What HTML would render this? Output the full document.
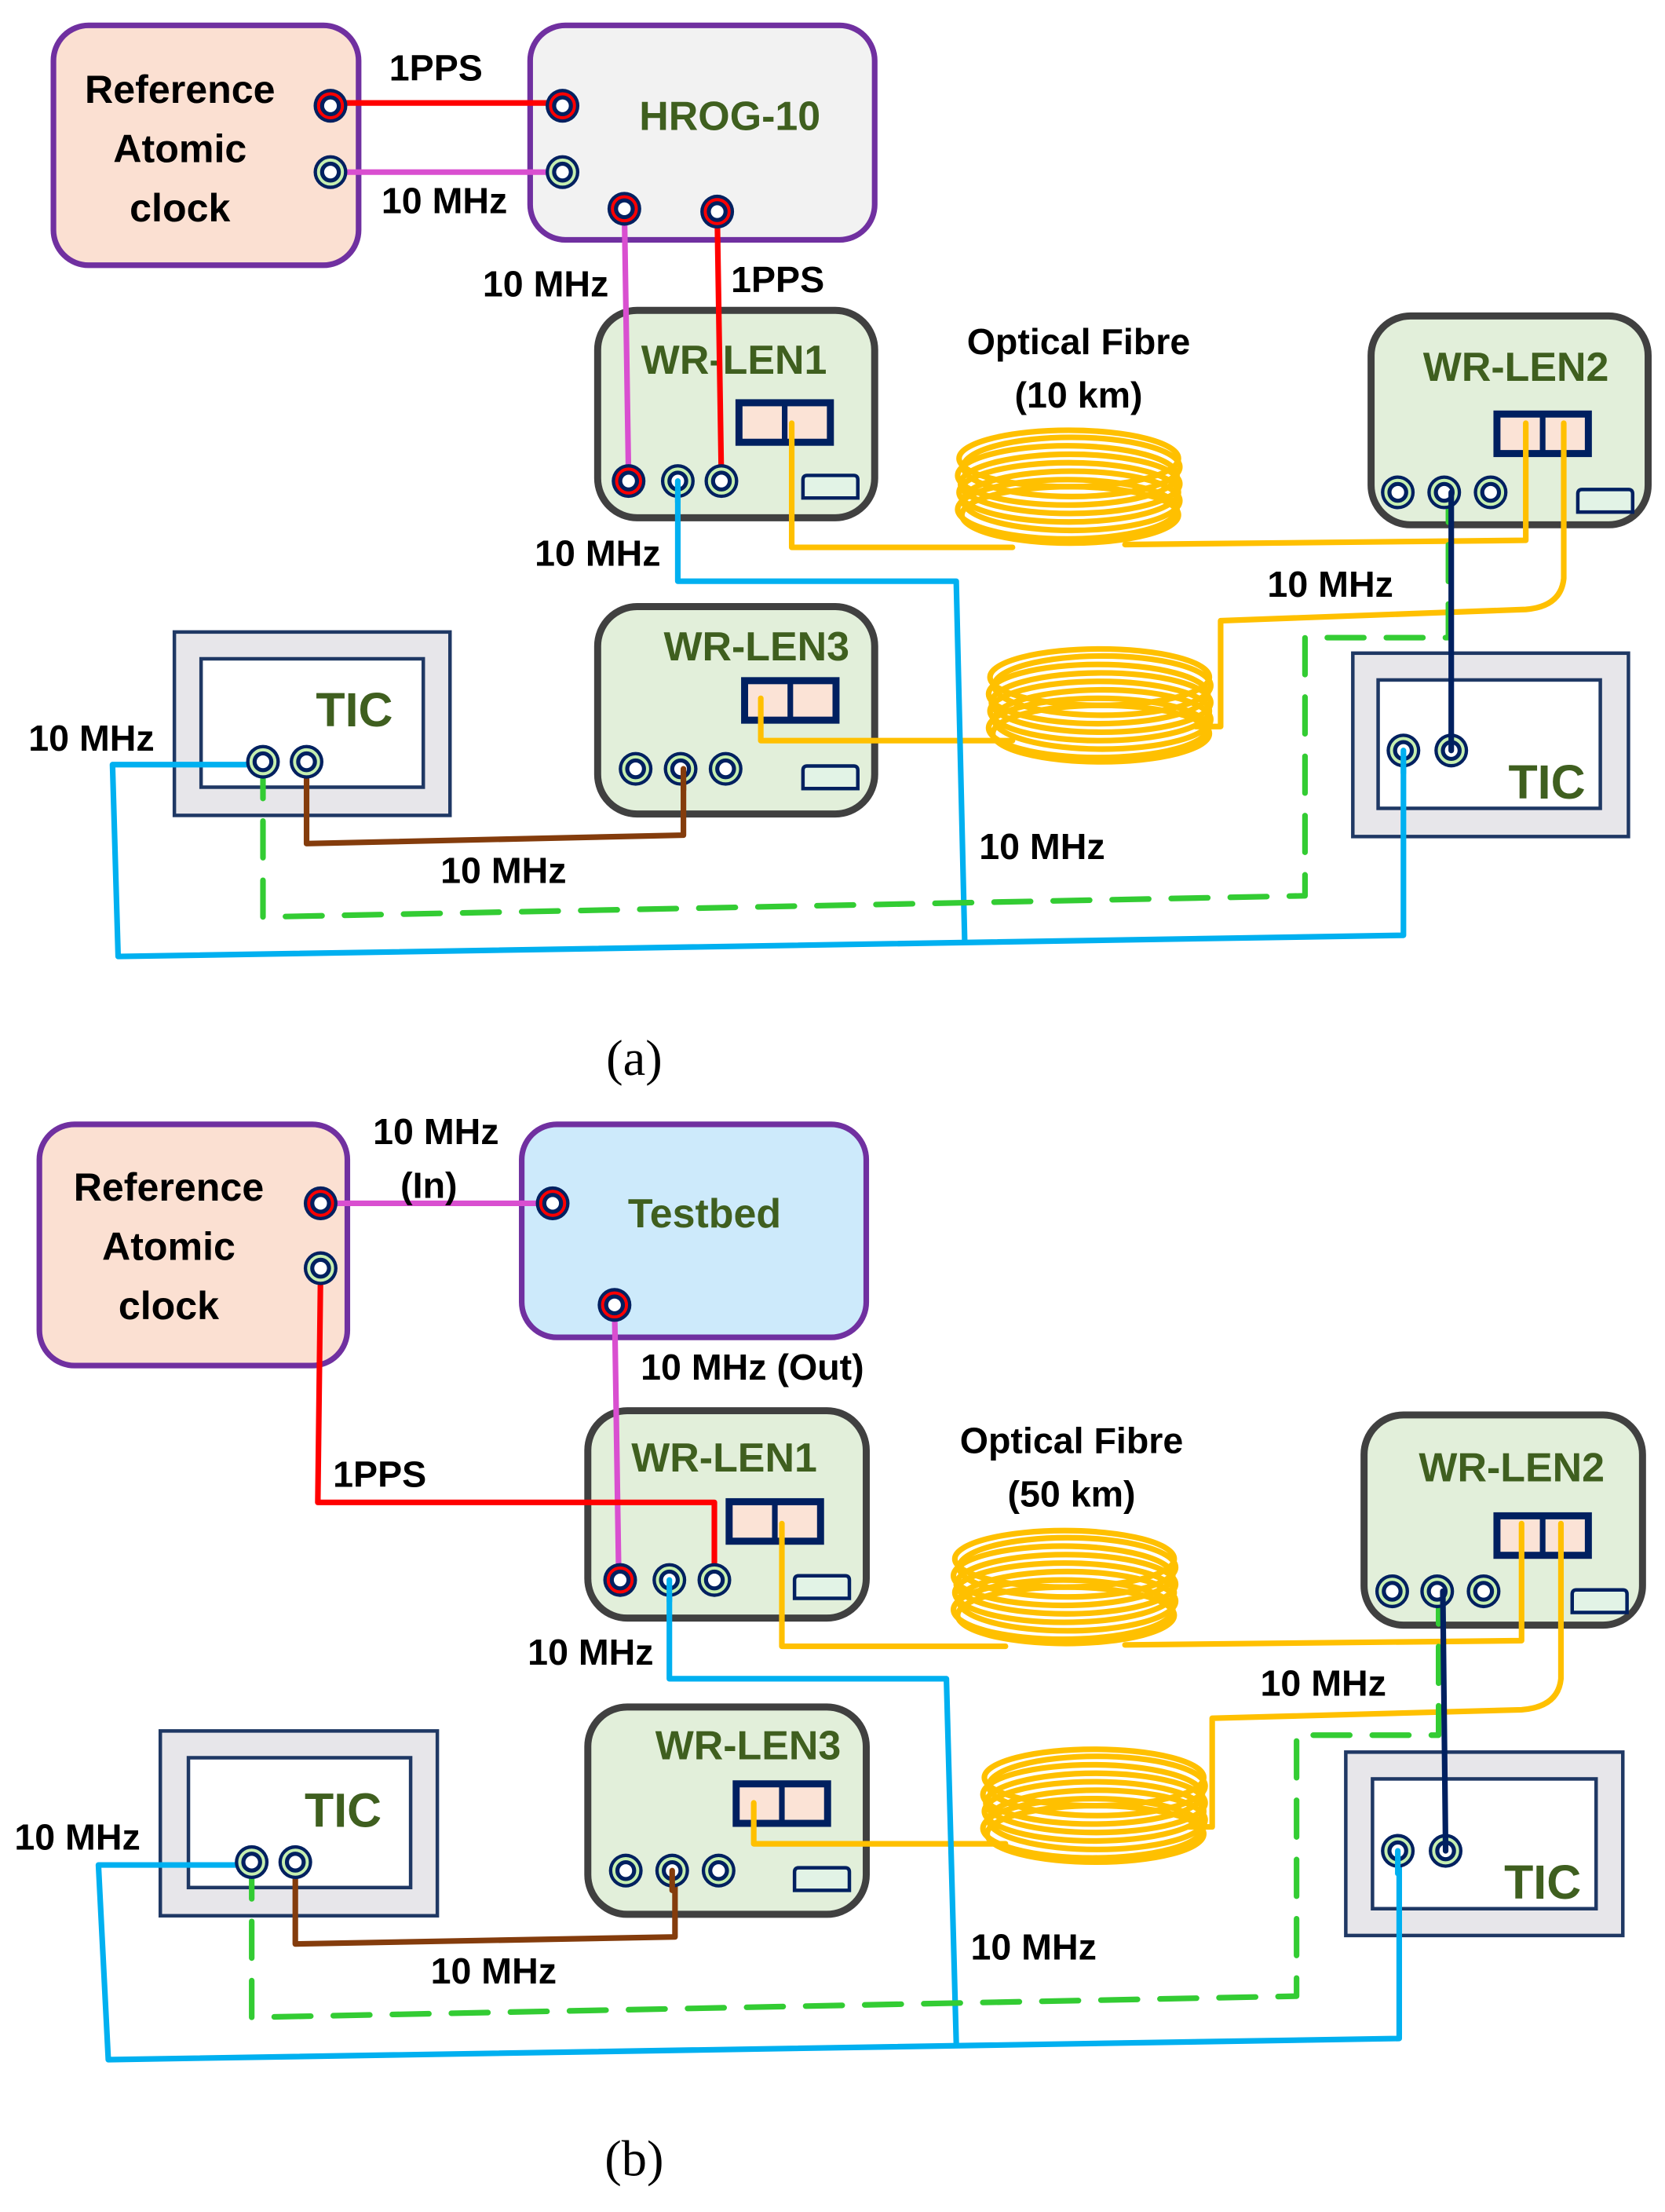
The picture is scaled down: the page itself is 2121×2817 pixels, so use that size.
<!DOCTYPE html>
<html><head><meta charset="utf-8"><style>
html,body{margin:0;padding:0;background:#fff;}
svg{display:block;}
text{font-family:"Liberation Sans",sans-serif;font-weight:bold;}
.lb{font-size:26px;fill:#000;text-anchor:middle;}
.gn{font-size:29px;fill:#3f5f1f;text-anchor:middle;}
.ln{fill:none;stroke-width:4;stroke-linejoin:round;stroke-linecap:round;}
.coil ellipse{fill:none;stroke:#ffc000;stroke-width:4;}
</style></head><body>
<svg width="2121" height="2817" viewBox="0 0 1184 1568" preserveAspectRatio="none" xmlns="http://www.w3.org/2000/svg">
<defs>
<g id="c"><circle r="12" fill="#002060"/><circle r="8.5" fill="none" stroke="#c6efb0" stroke-width="2.2"/><circle r="4.5" fill="#fff"/></g>
<g id="cr"><circle r="12" fill="#002060"/><circle r="8.5" fill="none" stroke="#ff0000" stroke-width="2.2"/><circle r="4.5" fill="#fff"/></g>
<g id="coil" class="coil">
<ellipse cx="0" cy="-20" rx="78" ry="20"/><ellipse cx="2" cy="-14" rx="77" ry="21"/><ellipse cx="-1" cy="-8" rx="78" ry="21"/>
<ellipse cx="1" cy="-2" rx="78" ry="21"/><ellipse cx="0" cy="4" rx="78" ry="21"/><ellipse cx="2" cy="10" rx="77" ry="21"/>
<ellipse cx="-1" cy="16" rx="78" ry="21"/><ellipse cx="1" cy="20" rx="77" ry="20"/></g>
<g id="sfp"><rect x="0" y="0" width="70" height="33" fill="#002060"/><rect x="5" y="5" width="28" height="23" fill="#fbe3d6"/><rect x="37" y="5" width="28" height="23" fill="#fbe3d6"/></g>
<g id="sm"><path d="M0,16 V3 Q0,0 3,0 H36 Q39,0 39,3 V16 Z" fill="#e2f3e6" stroke="#002060" stroke-width="2.5"/></g>
</defs>

<!-- ================= (a) ================= -->
<rect x="38" y="18" width="217" height="170" rx="25" fill="#fbe0d2" stroke="#7030a0" stroke-width="4"/>
<text class="lb" x="128" y="73" style="font-size:28px">Reference</text>
<text class="lb" x="128" y="115" style="font-size:28px">Atomic</text>
<text class="lb" x="128" y="157" style="font-size:28px">clock</text>
<rect x="377" y="18" width="245" height="152" rx="25" fill="#f2f2f2" stroke="#7030a0" stroke-width="4"/>
<text class="gn" x="519" y="92">HROG-10</text>

<rect x="425" y="220" width="197" height="147" rx="28" fill="#e2efda" stroke="#404040" stroke-width="5"/>
<text class="gn" x="522" y="265">WR-LEN1</text>
<use href="#sfp" x="523" y="283"/><use href="#sm" x="571" y="337"/>
<rect x="975" y="224" width="197" height="148" rx="28" fill="#e2efda" stroke="#404040" stroke-width="5"/>
<text class="gn" x="1078" y="270">WR-LEN2</text>
<use href="#sfp" x="1062" y="291"/><use href="#sm" x="1122" y="347"/>
<rect x="425" y="430" width="197" height="147" rx="28" fill="#e2efda" stroke="#404040" stroke-width="5"/>
<text class="gn" x="538" y="468">WR-LEN3</text>
<use href="#sfp" x="527" y="480"/><use href="#sm" x="571" y="543"/>

<rect x="124" y="448" width="196" height="130" fill="#e7e6ea" stroke="#1f3864" stroke-width="2.5"/>
<rect x="143" y="467" width="158" height="91" fill="#fff" stroke="#1f3864" stroke-width="2.5"/>
<text class="gn" x="252" y="515" style="font-size:34px">TIC</text>
<rect x="962" y="463" width="196" height="130" fill="#e7e6ea" stroke="#1f3864" stroke-width="2.5"/>
<rect x="980" y="482" width="158" height="91" fill="#fff" stroke="#1f3864" stroke-width="2.5"/>
<text class="gn" x="1100" y="566" style="font-size:34px">TIC</text>

<path class="ln" stroke="#ffc000" stroke-width="3" d="M563,300 V388 H720 M800,386 L1085,383 V300"/>
<path class="ln" stroke="#ffc000" stroke-width="3" d="M1112,300 V410 Q1110,430 1085,432 L868,440 V515 L850,515 M720,525 H541 V495"/>
<use href="#coil" x="760" y="345"/>
<use href="#coil" x="782" y="500"/>
<text class="lb" x="767" y="251">Optical Fibre</text>
<text class="lb" x="767" y="289">(10 km)</text>

<path class="ln" stroke="#00b0f0" d="M482,341 V412 H680 L686,667"/>
<path class="ln" stroke="#00b0f0" d="M187,542 H80 L84,678 L998,663 V532"/>
<path class="ln" stroke="#843c0c" d="M218,540 V598 L486,592 V545"/>
<path class="ln" stroke="#33cc33" stroke-dasharray="26,16" d="M187,540 V650 L928,635 V452 H1030 V349"/>
<path class="ln" stroke="#ff0000" d="M235,73 H400"/>
<path class="ln" stroke="#d94fd0" d="M235,122 H400"/>
<path class="ln" stroke="#d94fd0" d="M444,148 L447,340"/>
<path class="ln" stroke="#ff0000" d="M510,150 L513,340"/>

<use href="#cr" x="235" y="75"/><use href="#c" x="235" y="122"/>
<use href="#cr" x="400" y="75"/><use href="#c" x="400" y="122"/>
<use href="#cr" x="444" y="148"/><use href="#cr" x="510" y="150"/>
<use href="#cr" x="447" y="341"/><use href="#c" x="482" y="341"/><use href="#c" x="513" y="341"/>
<use href="#c" x="994" y="349"/><use href="#c" x="1027" y="349"/><use href="#c" x="1060" y="349"/>
<use href="#c" x="452" y="545"/><use href="#c" x="484" y="545"/><use href="#c" x="516" y="545"/>
<use href="#c" x="187" y="540"/><use href="#c" x="218" y="540"/>
<use href="#c" x="998" y="532"/><use href="#c" x="1032" y="532"/>
<path class="ln" stroke="#00b0f0" d="M482,341 V356"/><path class="ln" stroke="#00b0f0" d="M998,532 V548"/>
<path class="ln" stroke="#843c0c" d="M486,545 V560"/><path class="ln" stroke="#002060" stroke-width="5" d="M1032,532 V349"/>

<text class="lb" x="310" y="57">1PPS</text>
<text class="lb" x="316" y="151">10 MHz</text>
<text class="lb" x="388" y="210">10 MHz</text>
<text class="lb" x="553" y="207">1PPS</text>
<text class="lb" x="425" y="401">10 MHz</text>
<text class="lb" x="946" y="423">10 MHz</text>
<text class="lb" x="65" y="532">10 MHz</text>
<text class="lb" x="358" y="626">10 MHz</text>
<text class="lb" x="741" y="609">10 MHz</text>
<text x="451" y="762" text-anchor="middle" style="font-family:'Liberation Serif',serif;font-weight:normal;font-size:36px">(a)</text>

<!-- ================= (b) ================= -->
<rect x="28" y="797" width="219" height="171" rx="25" fill="#fbe0d2" stroke="#7030a0" stroke-width="4"/>
<text class="lb" x="120" y="851" style="font-size:28px">Reference</text>
<text class="lb" x="120" y="893" style="font-size:28px">Atomic</text>
<text class="lb" x="120" y="935" style="font-size:28px">clock</text>
<rect x="371" y="797" width="245" height="151" rx="25" fill="#cdeafb" stroke="#7030a0" stroke-width="4"/>
<text class="gn" x="501" y="870">Testbed</text>

<rect x="418" y="1000" width="198" height="147" rx="28" fill="#e2efda" stroke="#404040" stroke-width="5"/>
<text class="gn" x="515" y="1043">WR-LEN1</text>
<use href="#sfp" x="516" y="1062"/><use href="#sm" x="565" y="1117"/>
<rect x="970" y="1003" width="198" height="149" rx="28" fill="#e2efda" stroke="#404040" stroke-width="5"/>
<text class="gn" x="1075" y="1050">WR-LEN2</text>
<use href="#sfp" x="1062" y="1072"/><use href="#sm" x="1118" y="1127"/>
<rect x="418" y="1210" width="198" height="147" rx="28" fill="#e2efda" stroke="#404040" stroke-width="5"/>
<text class="gn" x="532" y="1247">WR-LEN3</text>
<use href="#sfp" x="521" y="1262"/><use href="#sm" x="565" y="1324"/>

<rect x="114" y="1227" width="197" height="131" fill="#e7e6ea" stroke="#1f3864" stroke-width="2.5"/>
<rect x="134" y="1246" width="158" height="92" fill="#fff" stroke="#1f3864" stroke-width="2.5"/>
<text class="gn" x="244" y="1295" style="font-size:34px">TIC</text>
<rect x="957" y="1242" width="197" height="130" fill="#e7e6ea" stroke="#1f3864" stroke-width="2.5"/>
<rect x="976" y="1261" width="159" height="92" fill="#fff" stroke="#1f3864" stroke-width="2.5"/>
<text class="gn" x="1097" y="1346" style="font-size:34px">TIC</text>

<path class="ln" stroke="#ffc000" stroke-width="3" d="M556,1080 V1167 H715 M800,1166 L1082,1163 V1080"/>
<path class="ln" stroke="#ffc000" stroke-width="3" d="M1110,1080 V1190 Q1108,1210 1082,1212 L862,1218 V1295 L845,1295 M715,1307 H536 V1278"/>
<use href="#coil" x="757" y="1125"/>
<use href="#coil" x="778" y="1280"/>
<text class="lb" x="762" y="1030">Optical Fibre</text>
<text class="lb" x="762" y="1068">(50 km)</text>

<path class="ln" stroke="#00b0f0" d="M476,1120 V1190 H673 L680,1448"/>
<path class="ln" stroke="#00b0f0" d="M179,1322 H70 L77,1460 L995,1445 V1312"/>
<path class="ln" stroke="#843c0c" d="M210,1320 V1378 L480,1373 V1326"/>
<path class="ln" stroke="#33cc33" stroke-dasharray="26,16" d="M179,1320 V1430 L922,1415 V1230 H1023 V1128"/>
<path class="ln" stroke="#d94fd0" d="M228,853 H393"/>
<path class="ln" stroke="#d94fd0" d="M437,925 L440,1118"/>
<path class="ln" stroke="#ff0000" d="M228,899 L226,1065 H508 V1120"/>

<use href="#cr" x="228" y="853"/><use href="#c" x="228" y="899"/>
<use href="#cr" x="393" y="853"/><use href="#cr" x="437" y="925"/>
<use href="#cr" x="441" y="1120"/><use href="#c" x="476" y="1120"/><use href="#c" x="508" y="1120"/>
<use href="#c" x="990" y="1128"/><use href="#c" x="1022" y="1128"/><use href="#c" x="1055" y="1128"/>
<use href="#c" x="445" y="1326"/><use href="#c" x="478" y="1326"/><use href="#c" x="511" y="1326"/>
<use href="#c" x="179" y="1320"/><use href="#c" x="210" y="1320"/>
<use href="#c" x="994" y="1312"/><use href="#c" x="1028" y="1312"/>
<path class="ln" stroke="#002060" stroke-width="5" d="M1028,1312 L1026,1128"/>
<path class="ln" stroke="#00b0f0" d="M994,1312 V1328"/>
<path class="ln" stroke="#00b0f0" d="M476,1120 V1135"/>
<path class="ln" stroke="#843c0c" d="M478,1326 V1340"/>

<text class="lb" x="310" y="811">10 MHz</text>
<text class="lb" x="305" y="849">(In)</text>
<text class="lb" x="535" y="978">10 MHz (Out)</text>
<text class="lb" x="270" y="1054">1PPS</text>
<text class="lb" x="420" y="1180">10 MHz</text>
<text class="lb" x="941" y="1202">10 MHz</text>
<text class="lb" x="55" y="1311">10 MHz</text>
<text class="lb" x="351" y="1406">10 MHz</text>
<text class="lb" x="735" y="1389">10 MHz</text>
<text x="451" y="1542" text-anchor="middle" style="font-family:'Liberation Serif',serif;font-weight:normal;font-size:36px">(b)</text>
</svg>
</body></html>
